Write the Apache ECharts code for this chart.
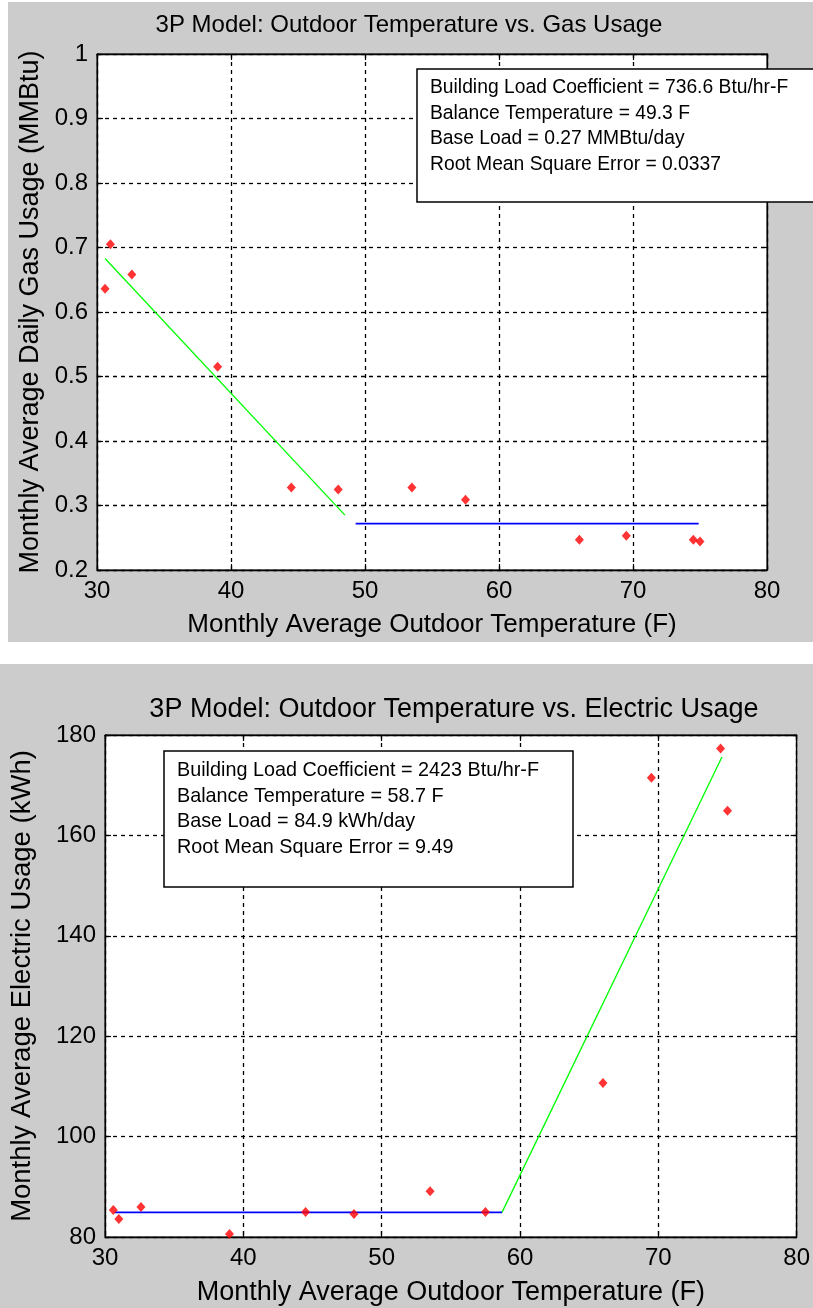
<!DOCTYPE html>
<html>
<head>
<meta charset="utf-8">
<script src="https://cdn.jsdelivr.net/npm/echarts@6/dist/echarts.min.js"></script>
<style>
  html, body { margin: 0; padding: 0; background: #fff; }
  #chart { width: 813px; height: 1308px; }
</style>
</head>
<body>
<div id="chart"></div>
<script>
// Monthly average outdoor temperature (F), one entry per billing month
const temps = [30.6, 31.0, 32.6, 39.0, 44.5, 48.0, 53.5, 57.5, 66.0, 69.5, 74.5, 75.0];
// Monthly average daily gas usage (MMBtu)
const gasUsage = [0.636, 0.705, 0.658, 0.515, 0.328, 0.325, 0.328, 0.309, 0.247, 0.253, 0.247, 0.244];
// Monthly average electric usage (kWh)
const elecUsage = [85.4, 83.6, 86.0, 80.6, 85.0, 84.6, 89.1, 85.0, 110.7, 171.5, 177.3, 164.9];

// 3P model fit: heating slope below the balance point, flat base load above it
const gasSlopeX = [30.6, 48.5];
const gasSlopeY = [0.683, 0.285];
const gasBaseX = [49.3, 74.9];
const gasBaseY = [0.272, 0.272];

// 3P model fit: flat base load below the balance point, cooling slope above it
const elecBaseX = [30.7, 58.7];
const elecBaseY = [84.9, 84.9];
const elecSlopeX = [58.7, 74.6];
const elecSlopeY = [84.9, 175.6];

// Axis ranges and tick steps
const tempTicks = { min: 30, max: 80, interval: 10 };
const gasTicks = { min: 0.2, max: 1, interval: 0.1 };
const elecTicks = { min: 80, max: 180, interval: 20 };

// Fit summaries shown in the annotation boxes
const gasNotes = [
  'Building Load Coefficient = 736.6 Btu/hr-F',
  'Balance Temperature = 49.3 F',
  'Base Load = 0.27 MMBtu/day',
  'Root Mean Square Error = 0.0337'
];
const elecNotes = [
  'Building Load Coefficient = 2423 Btu/hr-F',
  'Balance Temperature = 58.7 F',
  'Base Load = 84.9 kWh/day',
  'Root Mean Square Error = 9.49'
];

const FONT = '"Liberation Sans", Arial, Helvetica, sans-serif';
const pairs = (xs, ys) => xs.map((x, i) => [x, ys[i]]);

function mainAxis(gridIndex, range, name, nameGap, nameSize, pos) {
  return {
    type: 'value', gridIndex, position: pos,
    min: range.min, max: range.max, interval: range.interval,
    name, nameLocation: 'middle', nameGap,
    nameTextStyle: { color: '#000', fontSize: nameSize, fontFamily: FONT },
    axisLine: { show: true, onZero: false, lineStyle: { color: '#000', width: 1.3 } },
    axisTick: { show: true, inside: true, length: 6, lineStyle: { color: '#000', width: 1.2 } },
    axisLabel: { color: '#000', fontSize: 24, fontFamily: FONT, margin: 9 },
    splitLine: { show: true, lineStyle: { color: '#000', width: 1.3, type: [4, 4] } }
  };
}
function mirrorAxis(gridIndex, range, pos) {
  return {
    type: 'value', gridIndex, position: pos,
    min: range.min, max: range.max, interval: range.interval,
    axisLine: { show: true, onZero: false, lineStyle: { color: '#000', width: 1.3 } },
    axisTick: { show: true, inside: true, length: 6, lineStyle: { color: '#000', width: 1.2 } },
    axisLabel: { show: false },
    splitLine: { show: false }
  };
}

// White annotation box with a black frame, drawn above the grid lines
function noteBox(x, y, w, h, lines, tx, ty0, step, size) {
  const items = [{
    type: 'rect', z: 100, shape: { x, y, width: w, height: h },
    style: { fill: '#fff', stroke: '#000', lineWidth: 1.5 }
  }];
  lines.forEach((t, i) => {
    items.push({
      type: 'text', z: 101, x: tx, y: ty0 + i * step,
      style: { text: t, fill: '#000', fontSize: size, fontFamily: FONT, verticalAlign: 'middle' }
    });
  });
  return items;
}

const chart = echarts.init(document.getElementById('chart'), null, { renderer: 'canvas' });
chart.setOption({
  backgroundColor: '#fff',
  animation: false,
  title: [
    { text: '3P Model: Outdoor Temperature vs. Gas Usage', left: 404, top: 8, textAlign: 'center',
      textStyle: { color: '#000', fontSize: 24, fontWeight: 'normal', fontFamily: FONT } },
    { text: '3P Model: Outdoor Temperature vs. Electric Usage', left: 449, top: 691, textAlign: 'center',
      textStyle: { color: '#000', fontSize: 27, fontWeight: 'normal', fontFamily: FONT } }
  ],
  graphic: [
    { type: 'rect', z: -10, shape: { x: 8, y: 2, width: 805, height: 640 }, style: { fill: '#cccccc' } },
    { type: 'rect', z: -10, shape: { x: 0, y: 664, width: 813, height: 644 }, style: { fill: '#cccccc' } }
  ].concat(
    noteBox(417, 69, 400, 133, gasNotes, 430, 88, 25.5, 19.3),
    noteBox(164, 751, 409, 136, elecNotes, 177, 771, 25.5, 19.8)
  ),
  grid: [
    { left: 97, top: 54, width: 670, height: 516, show: true, backgroundColor: '#fff', borderColor: '#000', borderWidth: 1 },
    { left: 101, top: 735, width: 702, height: 502, show: true, backgroundColor: '#fff', borderColor: '#000', borderWidth: 1 }
  ],
  xAxis: [
    mainAxis(0, tempTicks, 'Monthly Average Outdoor Temperature (F)', 42, 26, 'bottom'),
    mirrorAxis(0, tempTicks, 'top'),
    mainAxis(1, tempTicks, 'Monthly Average Outdoor Temperature (F)', 42, 27, 'bottom'),
    mirrorAxis(1, tempTicks, 'top')
  ],
  yAxis: [
    mainAxis(0, gasTicks, 'Monthly Average Daily Gas Usage (MMBtu)', 53, 27, 'left'),
    mirrorAxis(0, gasTicks, 'right'),
    mainAxis(1, elecTicks, 'Monthly Average Electric Usage (kWh)', 69, 27.5, 'left'),
    mirrorAxis(1, elecTicks, 'right')
  ],
  series: [
    { type: 'line', xAxisIndex: 0, yAxisIndex: 0, data: pairs(gasSlopeX, gasSlopeY),
      symbol: 'none', lineStyle: { color: '#00ff00', width: 1.3 }, z: 3 },
    { type: 'line', xAxisIndex: 0, yAxisIndex: 0, data: pairs(gasBaseX, gasBaseY),
      symbol: 'none', lineStyle: { color: '#0000ff', width: 1.8 }, z: 3 },
    { type: 'scatter', xAxisIndex: 0, yAxisIndex: 0, data: pairs(temps, gasUsage),
      symbol: 'diamond', symbolSize: [9, 10], itemStyle: { color: '#ff0000' }, z: 4 },
    { type: 'line', xAxisIndex: 2, yAxisIndex: 2, data: pairs(elecSlopeX, elecSlopeY),
      symbol: 'none', lineStyle: { color: '#00ff00', width: 1.3 }, z: 3 },
    { type: 'line', xAxisIndex: 2, yAxisIndex: 2, data: pairs(elecBaseX, elecBaseY),
      symbol: 'none', lineStyle: { color: '#0000ff', width: 1.8 }, z: 3 },
    { type: 'scatter', xAxisIndex: 2, yAxisIndex: 2, data: pairs(temps, elecUsage),
      symbol: 'diamond', symbolSize: [9, 10], itemStyle: { color: '#ff0000' }, z: 4 }
  ]
});
</script>
</body>
</html>
